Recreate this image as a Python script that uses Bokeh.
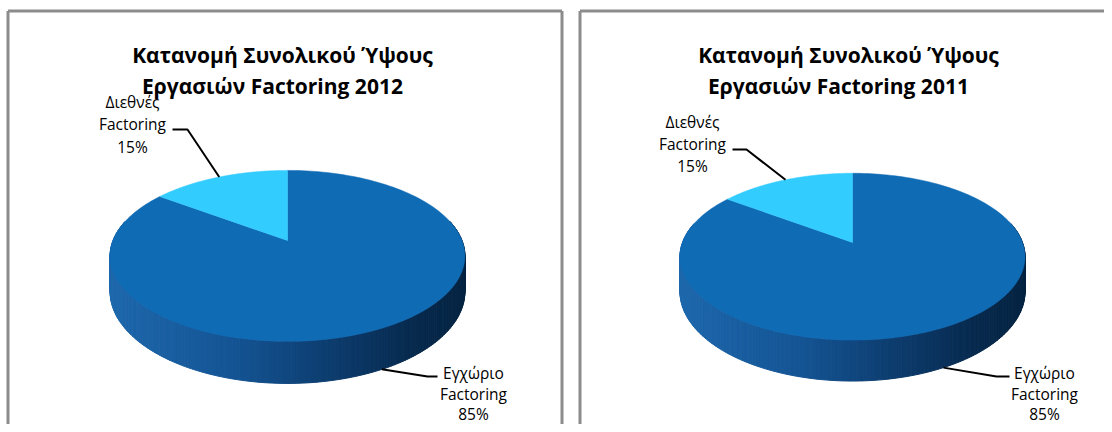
import numpy as np
from bokeh.plotting import figure
from bokeh.models import Range1d
from bokeh.embed import file_html
from bokeh.resources import INLINE
from bokeh.core.properties import value

# ---------------- data ----------------
categories = ["Εγχώριο Factoring", "Διεθνές Factoring"]
label_names = [["Εγχώριο", "Factoring"], ["Διεθνές", "Factoring"]]
years = ["2012", "2011"]
shares_2012 = [85, 15]
shares_2011 = [85, 15]
title_line1 = "Κατανομή Συνολικού Ύψους"
title_line2 = "Εργασιών Factoring"

# ---------------- style ----------------
TOP_COLORS = ["#106BB5", "#33CCFF"]
BORDER = "#8c8c8c"
FONT = "Open Sans"

W, H = 1104, 424
p = figure(width=W, height=H, x_range=Range1d(0, W), y_range=Range1d(H, 0),
           output_backend="svg", toolbar_location=None, min_border=0,
           x_axis_type=None, y_axis_type=None)
p.grid.visible = False
p.outline_line_color = None
p.background_fill_color = "white"
p.border_fill_color = "white"

# panel geometry (pixel layout)
panels = [
    dict(x0=7.5, x1=561.5, cx=287.0, cy=240.0, A=174.5, B=82.7, k=0.18, D=34.5,
         t1x=282, t2x=272, ty1=54, ty2=85,
         labels=[dict(x=473, ys=[372, 393, 413], elbow=(427, 376), end=(437, 376)),
                 dict(x=132, ys=[101, 123.5, 146.5], elbow=(187, 129), end=(172, 129))]),
    dict(x0=579.5, x1=1125, cx=852.0, cy=242.0, A=170.0, B=81.0, k=0.17, D=34.0,
         t1x=848, t2x=838, ty1=54, ty2=85,
         labels=[dict(x=1044, ys=[372, 393, 413], elbow=(996, 376), end=(1009, 376)),
                 dict(x=692, ys=[121.5, 143.5, 165.5], elbow=(746, 149), end=(732, 149))]),
]
all_shares = [shares_2012, shares_2011]


def proj(g, ang, drop=0.0):
    u = np.sin(ang)
    v = np.cos(ang)
    den = 1 + g["k"] * v
    return g["cx"] + g["A"] * u / den, g["cy"] - g["B"] * v / den + drop / den


def side_color(frac):
    stops = [(0.0, (30, 104, 172)), (0.35, (20, 84, 148)), (0.65, (12, 58, 106)),
             (0.85, (7, 42, 78)), (1.0, (6, 36, 66))]
    for (f0, c0), (f1, c1) in zip(stops[:-1], stops[1:]):
        if frac <= f1:
            t = (frac - f0) / (f1 - f0) if f1 > f0 else 0
            c = [int(round(a + (b - a) * t)) for a, b in zip(c0, c1)]
            return "#%02x%02x%02x" % tuple(c)
    return "#%02x%02x%02x" % stops[-1][1]


for g, shares, year in zip(panels, all_shares, years):
    # panel border (left, top, right)
    p.multi_line(xs=[[g["x0"], g["x0"]], [g["x0"], g["x1"]], [g["x1"], g["x1"]]],
                 ys=[[440, 10.5], [10.5, 10.5], [10.5, 440]],
                 line_color=BORDER, line_width=3)

    total = float(sum(shares))
    fr = np.array(shares) / total
    starts = np.concatenate([[0.0], np.cumsum(fr)[:-1]]) * 2 * np.pi
    ends = np.cumsum(fr) * 2 * np.pi

    # side wall (front half) as strips
    n = 360
    angs = np.linspace(0, 2 * np.pi, n + 1)
    xs, ys, cols = [], [], []
    left = g["cx"] - g["A"] * 1.02
    width = 2 * g["A"] * 1.02
    for a0, a1 in zip(angs[:-1], angs[1:]):
        if np.cos((a0 + a1) / 2) > 0.25:
            continue
        tx0, ty0 = proj(g, a0)
        tx1, ty1 = proj(g, a1)
        bx0, by0 = proj(g, a0, g["D"])
        bx1, by1 = proj(g, a1, g["D"])
        xs.append([tx0, tx1, bx1, bx0])
        ys.append([ty0, ty1, by1, by0])
        f = min(max(((tx0 + tx1) / 2 - left) / width, 0), 1)
        cols.append(side_color(f))
    p.patches(xs=xs, ys=ys, fill_color=cols, line_color=cols, line_width=1)

    # top face slices
    sx, sy = [], []
    for a0, a1 in zip(starts, ends):
        aa = np.linspace(a0, a1, 200)
        rx, ry = proj(g, aa)
        sx.append([g["cx"]] + list(rx))
        sy.append([g["cy"]] + list(ry))
    p.patches(xs=sx, ys=sy, fill_color=TOP_COLORS, line_color=TOP_COLORS, line_width=0.5)

    # title
    p.text(x=[g["t1x"], g["t2x"]], y=[g["ty1"], g["ty2"]],
           text=[title_line1, f"{title_line2} {year}"],
           text_font=value(FONT), text_font_style="bold", text_font_size="21px",
           text_align="center", text_baseline="alphabetic", text_color="#000000")

    # data labels with leader lines
    for i, lab in enumerate(g["labels"]):
        mid = (starts[i] + ends[i]) / 2
        drop = g["D"] if np.cos(mid) < 0 else 0.0
        mx, my = proj(g, mid, drop)
        p.line(x=[mx, lab["elbow"][0], lab["end"][0]], y=[my, lab["elbow"][1], lab["end"][1]],
               line_color="#000000", line_width=2)
        pct = f"{round(100 * shares[i] / total)}%"
        p.text(x=[lab["x"]] * 3, y=lab["ys"], text=label_names[i] + [pct],
               text_font=value(FONT), text_font_size="15.5px", text_align="center",
               text_baseline="middle", text_color="#000000")

open("out.html", "w").write(file_html(p, INLINE))
